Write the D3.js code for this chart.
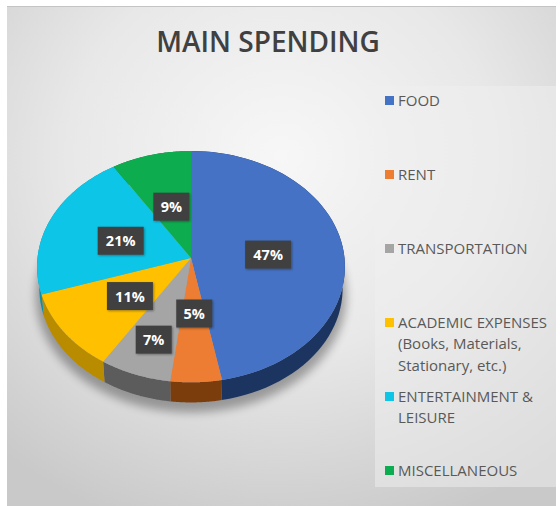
<!DOCTYPE html>
<html>
<head>
<meta charset="utf-8">
<script src="https://cdn.jsdelivr.net/npm/d3@7"></script>
<style>
html, body { margin: 0; padding: 0; background: #fff; }
svg { display: block; }
text { font-family: "Open Sans", sans-serif; }
</style>
</head>
<body>
<svg id="chart" width="560" height="506"></svg>
<script>
const categories = ["FOOD", "RENT", "TRANSPORTATION", "ACADEMIC EXPENSES", "ENTERTAINMENT & LEISURE", "MISCELLANEOUS"];
const values = [47, 5, 7, 11, 21, 9];
const topColors = ["#4472c4", "#ed7d31", "#a5a5a5", "#ffc000", "#0fc5e6", "#0bad50"];
const sideColors = ["#1d3461", "#7c3c10", "#5c5c5c", "#b98c05", "#0a8ea8", "#087a38"];
const legendLines = [
    ["FOOD"],
    ["RENT"],
    ["TRANSPORTATION"],
    ["ACADEMIC EXPENSES", "(Books, Materials,", "Stationary, etc.)"],
    ["ENTERTAINMENT &", "LEISURE"],
    ["MISCELLANEOUS"]
];

let svg = d3.select("#chart");

// background
let defs = svg.append("defs");
let bg = defs.append("radialGradient").attr("id", "bg").attr("cx", "50%").attr("cy", "30%").attr("r", "78%");
bg.append("stop").attr("offset", "0%").attr("stop-color", "#f7f7f7");
bg.append("stop").attr("offset", "50%").attr("stop-color", "#e8e8e8");
bg.append("stop").attr("offset", "100%").attr("stop-color", "#c9c9c9");
defs.append("filter").attr("id", "blur").attr("x", "-20%").attr("y", "-20%").attr("width", "140%").attr("height", "140%")
    .append("feGaussianBlur").attr("stdDeviation", 5);
let labelShadow = defs.append("filter").attr("id", "boxShadow").attr("x", "-30%").attr("y", "-30%").attr("width", "160%").attr("height", "160%");
labelShadow.append("feDropShadow").attr("dx", 1).attr("dy", 1).attr("stdDeviation", 1.2).attr("flood-color", "#000").attr("flood-opacity", 0.35);
defs.append("filter").attr("id", "soft").append("feGaussianBlur").attr("stdDeviation", 0.35);

svg.append("rect").attr("x", 7).attr("y", 6).attr("width", 549).attr("height", 500).attr("fill", "url(#bg)");
svg.append("rect").attr("x", 7).attr("y", 6).attr("width", 549).attr("height", 1).attr("fill", "#c4c4c4");
svg.append("rect").attr("x", 375).attr("y", 86).attr("width", 181).attr("height", 401).attr("fill", "#efefef").attr("opacity", 0.5);

svg.append("text")
    .attr("x", 268).attr("y", 52)
    .attr("text-anchor", "middle")
    .attr("font-size", 28).attr("font-weight", 600)
    .attr("fill", "#404040")
    .text("MAIN SPENDING");

// tilted pie: d3 gives the angles, project() lays the disc down in perspective
let cx = 191, cy = 258, rx = 153.5, ry = 115, tilt = 0.075;
let pie = d3.pie().sort(null).value(d => d);
let slices = pie(values);

function project(angle, r, dy = 0, shrink = 1) {
    let x = Math.sin(angle) * r, y = -Math.cos(angle) * r;
    let w = 1 - tilt * y;
    return [cx + rx * shrink * x / w, cy + dy + ry * shrink * y / w];
}

function rim(start, end, dy, shrink) {
    return d3.range(0, 61).map(i => project(start + (end - start) * i / 60, 1, dy, shrink));
}

let line = d3.line();
let chart = svg.append("g").attr("filter", "url(#soft)");

chart.append("path")
    .attr("d", line(rim(0, 2 * Math.PI, 29, 1.01)) + "Z")
    .attr("fill", "#000").attr("opacity", 0.32)
    .attr("filter", "url(#blur)");

chart.append("g").selectAll("path").data(slices).enter().append("path")
    .attr("d", d => line(rim(d.startAngle, d.endAngle, 0, 1).concat(rim(d.startAngle, d.endAngle, 22, 0.985).reverse())) + "Z")
    .attr("fill", (d, i) => sideColors[i]);

chart.append("g").selectAll("path").data(slices).enter().append("path")
    .attr("d", d => line([project(0, 0)].concat(rim(d.startAngle, d.endAngle, 0, 1))) + "Z")
    .attr("fill", (d, i) => topColors[i]);

// data labels, the 5% and 7% ones get moved apart like best fit did
function labelRadius(i) {
    if (i === 1) return 0.45;
    if (i === 2) return 0.7;
    return 0.5;
}

let labels = svg.append("g").attr("transform", "translate(1,2)").selectAll("g").data(slices).enter().append("g")
    .attr("transform", (d, i) => {
        let p = project((d.startAngle + d.endAngle) / 2, labelRadius(i));
        return "translate(" + p[0] + "," + p[1] + ")";
    });

labels.append("rect")
    .attr("x", d => d.value > 9 ? -23 : -18)
    .attr("y", -14)
    .attr("width", d => d.value > 9 ? 46 : 36)
    .attr("height", 28)
    .attr("fill", "#404040")
    .attr("filter", "url(#boxShadow)");

labels.append("text")
    .attr("text-anchor", "middle")
    .attr("y", 5.5)
    .attr("font-size", 14.5).attr("font-weight", 700)
    .attr("fill", "#fff")
    .text(d => d.value + "%");

// legend
let legendY = d3.scalePoint().domain(categories).range([100, 470]);
let legend = svg.append("g").selectAll("g").data(categories).enter().append("g")
    .attr("transform", d => "translate(385," + legendY(d) + ")");

legend.append("rect")
    .attr("y", -4).attr("width", 9).attr("height", 9)
    .attr("fill", (d, i) => topColors[i]);

legend.append("text")
    .attr("fill", "#595959")
    .attr("font-size", 15)
    .selectAll("tspan").data((d, i) => legendLines[i]).enter().append("tspan")
    .attr("x", 13)
    .attr("y", (d, i) => 5.5 + i * 21.5)
    .text(d => d);
</script>
</body>
</html>
